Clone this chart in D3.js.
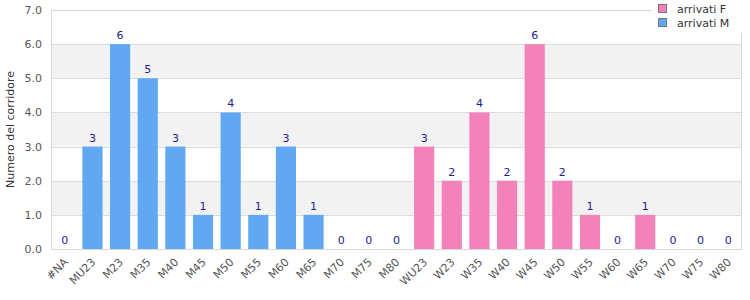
<!DOCTYPE html>
<html><head><meta charset="utf-8">
<script src="https://cdn.jsdelivr.net/npm/d3@7"></script>
<style>body{margin:0;background:#fff}svg{display:block;font-family:"DejaVu Sans",Verdana,sans-serif}</style>
</head><body><svg id="c" width="750" height="300"></svg>
<script>
const categories = ["#NA","MU23","M23","M35","M40","M45","M50","M55","M60","M65","M70","M75","M80","WU23","W23","W35","W40","W45","W50","W55","W60","W65","W70","W75","W80"];
const arrivatiM = [0,3,6,5,3,1,4,1,3,1,0,0,0,0,0,0,0,0,0,0,0,0,0,0,0];
const arrivatiF = [0,0,0,0,0,0,0,0,0,0,0,0,0,3,2,4,2,6,2,1,0,1,0,0,0];
const yTicks = [0,1,2,3,4,5,6,7];
const seriesNames = ["arrivati F","arrivati M"];
const colors = {"arrivati F":"#f282b9","arrivati M":"#60a9f2"};

const svg = d3.select("#c");
const m = {l:51, r:8, t:10, b:51};
const W = 750, H = 300;
const x = d3.scaleBand().domain(categories).range([m.l, W-m.r]).paddingInner(0.27).paddingOuter(0.135);
const y = d3.scaleLinear().domain([0,7]).range([H-m.b, m.t]);

// bands
for (let i=0;i<yTicks.length-1;i++){
  if (i%2===1) svg.append("rect").attr("x",m.l).attr("width",W-m.r-m.l)
    .attr("y",y(yTicks[i+1])).attr("height",y(yTicks[i])-y(yTicks[i+1])).attr("fill","#f2f2f2");
}
svg.append("g").selectAll("line").data(yTicks.slice(1,-1)).join("line")
  .attr("x1",m.l).attr("x2",W-m.r).attr("y1",d=>Math.round(y(d))+0.5).attr("y2",d=>Math.round(y(d))+0.5)
  .attr("stroke","#dcdcdc");
// frame
svg.append("rect").attr("x",m.l+0.5).attr("y",m.t+0.5).attr("width",W-m.r-m.l-1).attr("height",H-m.b-m.t)
  .attr("fill","none").attr("stroke","#d8d8d8");

// stacked bars
const data = categories.map((c,i)=>({cat:c,"arrivati M":arrivatiM[i],"arrivati F":arrivatiF[i]}));
const stack = d3.stack().keys(["arrivati M","arrivati F"])(data);
svg.append("g").selectAll("g").data(stack).join("g").attr("fill",d=>colors[d.key])
  .selectAll("rect").data(d=>d.filter(p=>p[1]-p[0]>0)).join("rect")
  .attr("x",d=>x(d.data.cat)).attr("width",x.bandwidth())
  .attr("y",d=>y(d[1])).attr("height",d=>y(d[0])-y(d[1]));

// value labels
svg.append("g").selectAll("text").data(data).join("text")
  .attr("x",d=>x(d.cat)+x.bandwidth()/2)
  .attr("y",d=>y(d["arrivati M"]+d["arrivati F"])-5)
  .attr("text-anchor","middle").attr("font-size",11).attr("fill","#1c1c8c")
  .text(d=>d["arrivati M"]+d["arrivati F"]);

// y axis
const ya = svg.append("g").attr("transform",`translate(${m.l},0)`)
  .call(d3.axisLeft(y).tickValues(yTicks).tickFormat(d3.format(".1f")).tickSize(0).tickPadding(9));
ya.select(".domain").remove();
ya.selectAll("text").attr("font-size",11).attr("fill","#555").attr("font-family","DejaVu Sans");

// x axis
const xa = svg.append("g").attr("transform",`translate(0,${H-m.b})`)
  .call(d3.axisBottom(x).tickSize(0).tickPadding(6));
xa.select(".domain").remove();
xa.selectAll("text").attr("font-size",11).attr("fill","#555").attr("font-family","DejaVu Sans")
  .attr("text-anchor","end").attr("x",0).attr("y",0).attr("dy","0.35em")
  .attr("transform","translate(1,11) rotate(-45)");

// y title
svg.append("text").attr("transform",`translate(10,${(m.t+H-m.b)/2}) rotate(-90)`)
  .attr("text-anchor","middle").attr("dy","0.35em").attr("font-size",11).attr("fill","#333")
  .text("Numero del corridore");

// legend
const lg = svg.append("g");
lg.append("rect").attr("x",652).attr("y",0).attr("width",92).attr("height",33).attr("fill","#fff");
seriesNames.forEach((s,i)=>{
  lg.append("rect").attr("x",658.5).attr("y",4.5+i*14).attr("width",8).attr("height",8)
    .attr("fill",colors[s]).attr("stroke","#777");
  lg.append("text").attr("x",677).attr("y",9+i*14).attr("dy","0.35em").attr("font-size",11).attr("fill","#333").text(s);
});
</script></body></html>
